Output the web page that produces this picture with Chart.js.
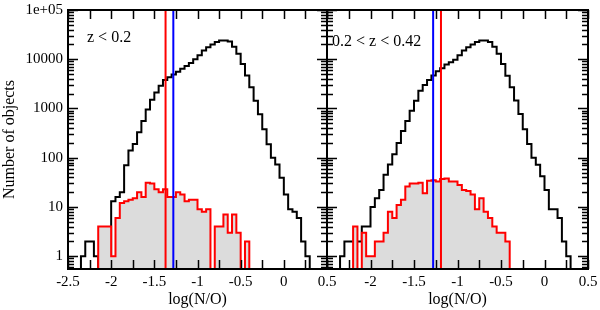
<!DOCTYPE html>
<html>
<head>
<meta charset="utf-8">
<script src="https://cdn.jsdelivr.net/npm/chart.js@4"></script>
<style>
  html, body { margin: 0; padding: 0; background: #fff; }
  #wrap { position: relative; width: 600px; height: 310px; }
  #wrap canvas { position: absolute; left: 0; top: 0; }
</style>
</head>
<body>
<div id="wrap">
  <canvas id="leftChart" width="600" height="310"></canvas>
  <canvas id="rightChart" width="600" height="310"></canvas>
</div>
<script>
const SERIF = "'Liberation Serif', 'Times New Roman', serif";

// ---------- DATA ----------
// bin edges in log(N/O), shared by every histogram
const binEdges = [
  -2.35, -2.30, -2.25, -2.20, -2.15, -2.10, -2.05, -2.00, -1.95, -1.90,
  -1.85, -1.80, -1.75, -1.70, -1.65, -1.60, -1.55, -1.50, -1.45, -1.40,
  -1.35, -1.30, -1.25, -1.20, -1.15, -1.10, -1.05, -1.00, -0.95, -0.90,
  -0.85, -0.80, -0.75, -0.70, -0.65, -0.60, -0.55, -0.50, -0.45, -0.40,
  -0.35, -0.30, -0.25, -0.20, -0.15, -0.10, -0.05, 0.00, 0.05, 0.10,
  0.15, 0.20, 0.25, 0.30
];

// z < 0.2 : all objects (black) and subsample (red)
const lowZAll = [
  1, 2, 2, 1, 0, 0, 0, 13, 16, 20,
  70, 140, 190, 330, 560, 950, 1500, 2100, 2900, 3800,
  4300, 4900, 5600, 6400, 7300, 8400, 10000, 12000, 15000, 17500,
  20000, 22300, 24000, 24000, 23000, 18000, 13000, 8000, 4650, 2700,
  1440, 765, 380, 187, 100, 73, 39, 18, 9, 8,
  6, 2, 1
];
const lowZSel = [
  0, 0, 0, 0, 4, 4, 4, 1, 6, 12,
  13, 14, 15, 20, 16, 31, 30, 23, 20, 23,
  16, 16, 20, 18, 13, 14, 14, 9, 8, 9,
  0, 4, 4, 7, 3, 7, 3, 0, 2, 0,
  0, 0, 0, 0, 0, 0, 0, 0, 0, 0,
  0, 0, 0
];

// 0.2 < z < 0.42
const highZAll = [
  1, 2, 2, 2, 2, 4, 4, 10, 15, 22,
  45, 73, 117, 200, 350, 560, 900, 1440, 2300, 3000,
  3800, 4650, 5700, 6600, 7800, 8700, 9800, 12000, 15000, 17500,
  20000, 22500, 24000, 24000, 22500, 18000, 13000, 8000, 4600, 2700,
  1450, 770, 380, 190, 100, 72, 42, 22, 9, 9,
  6, 2, 1
];
const highZSel = [
  0, 0, 0, 4, 0, 3, 1, 1, 2, 2,
  3, 8, 6, 11, 14, 26, 30, 30, 31, 19,
  34, 35, 33, 37, 38, 33, 33, 28, 22, 21,
  18, 9, 15, 8, 6, 4, 3, 3, 2, 0,
  0, 0, 0, 0, 0, 0, 0, 0, 0, 0,
  0, 0, 0
];

// vertical markers [left panel, right panel]
const redMarks = [-1.37, -1.19];
const blueMarks = [-1.28, -1.28];
const panelLabels = ["z < 0.2", "0.2 < z < 0.42"];

// axes
const xTickValues = [-2.5, -2, -1.5, -1, -0.5, 0, 0.5];
const xTickLabels = ["-2.5", "-2", "-1.5", "-1", "-0.5", "0", "0.5"];
const yTickValues = [1, 10, 100, 1000, 10000, 100000];
const yTickLabels = ["1", "10", "100", "1000", "10000", "1e+05"];

const X_MIN = -2.5, X_MAX = 0.5;
const Y_MIN = 0.55, Y_MAX = 100000;
const FLOOR = 0.1; // below the axis: empty bins fall out of view

// ---------- HELPERS ----------
function histPoints(counts) {
  let first = counts.findIndex(c => c > 0);
  let last = counts.length - 1;
  while (last > first && !(counts[last] > 0)) last--;
  let pts = [{ x: binEdges[first], y: FLOOR }];
  for (let i = first; i <= last; i++) {
    pts.push({ x: binEdges[i], y: counts[i] > 0 ? counts[i] : FLOOR });
  }
  pts.push({ x: binEdges[last + 1], y: FLOOR });
  return pts;
}

function markLine(x, color) {
  return {
    data: [{ x: x, y: Y_MIN }, { x: x, y: Y_MAX }],
    borderColor: color,
    borderWidth: 2,
    pointRadius: 0,
    clip: 0
  };
}

function logTicks() {
  let ticks = [];
  [0.6, 0.7, 0.8, 0.9].forEach(v => ticks.push({ value: v }));
  for (let p = 1; p < Y_MAX; p *= 10) {
    for (let s = 1; s <= 9; s++) ticks.push({ value: s * p });
  }
  ticks.push({ value: Y_MAX });
  return ticks;
}

// tick marks on all four sides + frame + panel label
const frameTicks = {
  id: "frameTicks",
  afterDatasetsDraw(chart, args, opts) {
    const { ctx, chartArea: a } = chart;
    const x = chart.scales.x, y = chart.scales.y;
    ctx.save();
    ctx.strokeStyle = "#000";
    ctx.lineWidth = 1.5;
    ctx.beginPath();
    x.ticks.forEach(t => {
      let px = Math.round(x.getPixelForValue(t.value)) + 0.5;
      ctx.moveTo(px, a.bottom); ctx.lineTo(px, a.bottom - 9);
      ctx.moveTo(px, a.top); ctx.lineTo(px, a.top + 9);
    });
    y.ticks.forEach(t => {
      let py = Math.round(y.getPixelForValue(t.value)) + 0.5;
      let len = yTickValues.includes(t.value) ? 10 : 6;
      ctx.moveTo(a.left, py); ctx.lineTo(a.left + len, py);
      ctx.moveTo(a.right, py); ctx.lineTo(a.right - len, py);
    });
    ctx.stroke();
    ctx.lineWidth = 2;
    ctx.strokeRect(a.left, a.top, a.right - a.left, a.bottom - a.top);
    ctx.fillStyle = "#000";
    ctx.font = "16px " + SERIF;
    ctx.textBaseline = "alphabetic";
    ctx.fillText(opts.label, a.left + opts.dx, a.top + opts.dy);
    ctx.restore();
  }
};

function makePanel(canvasId, all, sel, panel, isLeft) {
  new Chart(document.getElementById(canvasId), {
    type: "line",
    data: {
      datasets: [
        markLine(blueMarks[panel], "#0000ff"),
        markLine(redMarks[panel], "#ff0000"),
        {
          data: histPoints(sel),
          stepped: "before",
          borderColor: "#ff0000",
          borderWidth: 2,
          backgroundColor: "#dcdcdc",
          fill: "start",
          pointRadius: 0,
          clip: 0
        },
        {
          data: histPoints(all),
          stepped: "before",
          borderColor: "#000000",
          borderWidth: 2,
          fill: false,
          pointRadius: 0,
          clip: 0
        }
      ]
    },
    options: {
      responsive: false,
      animation: false,
      layout: { padding: { left: 0, top: 10, right: isLeft ? 273 : 12, bottom: 0 } },
      plugins: {
        legend: { display: false },
        tooltip: { enabled: false },
        frameTicks: isLeft ? { label: panelLabels[panel], dx: 19, dy: 32 }
                           : { label: panelLabels[panel], dx: 5, dy: 36 }
      },
      scales: {
        x: {
          type: "linear",
          min: X_MIN,
          max: X_MAX,
          grid: { display: false, drawTicks: false },
          border: { display: false },
          ticks: {
            stepSize: 0.25,
            autoSkip: false,
            maxRotation: 0,
            padding: 4,
            color: "#000",
            font: { family: SERIF, size: 15 },
            callback: v => {
              let i = xTickValues.findIndex(t => Math.abs(t - v) < 1e-6);
              if (i < 0 || (!isLeft && i === 0)) return "";
              return xTickLabels[i];
            }
          },
          title: {
            display: true,
            text: "log(N/O)",
            color: "#000",
            font: { family: SERIF, size: 16 },
            padding: { top: 0, bottom: 1 }
          },
          afterFit: s => {
            s.height = 41;
            s.paddingLeft = 0;
            s.paddingRight = 0;
          }
        },
        y: {
          type: "logarithmic",
          min: Y_MIN,
          max: Y_MAX,
          grid: { display: false, drawTicks: false },
          border: { display: false },
          afterBuildTicks: s => { s.ticks = logTicks(); },
          ticks: {
            display: isLeft,
            autoSkip: false,
            padding: 5,
            color: "#000",
            font: { family: SERIF, size: 15 },
            callback: v => {
              let i = yTickValues.indexOf(v);
              return i < 0 ? "" : yTickLabels[i];
            }
          },
          title: {
            display: isLeft,
            text: "Number of objects",
            color: "#000",
            font: { family: SERIF, size: 16 },
            padding: 0
          },
          afterFit: s => {
            s.width = isLeft ? 68 : 327;
            s.paddingTop = 0;
            s.paddingBottom = 0;
          }
        }
      }
    },
    plugins: [frameTicks]
  });
}

makePanel("leftChart", lowZAll, lowZSel, 0, true);
makePanel("rightChart", highZAll, highZSel, 1, false);
</script>
</body>
</html>
